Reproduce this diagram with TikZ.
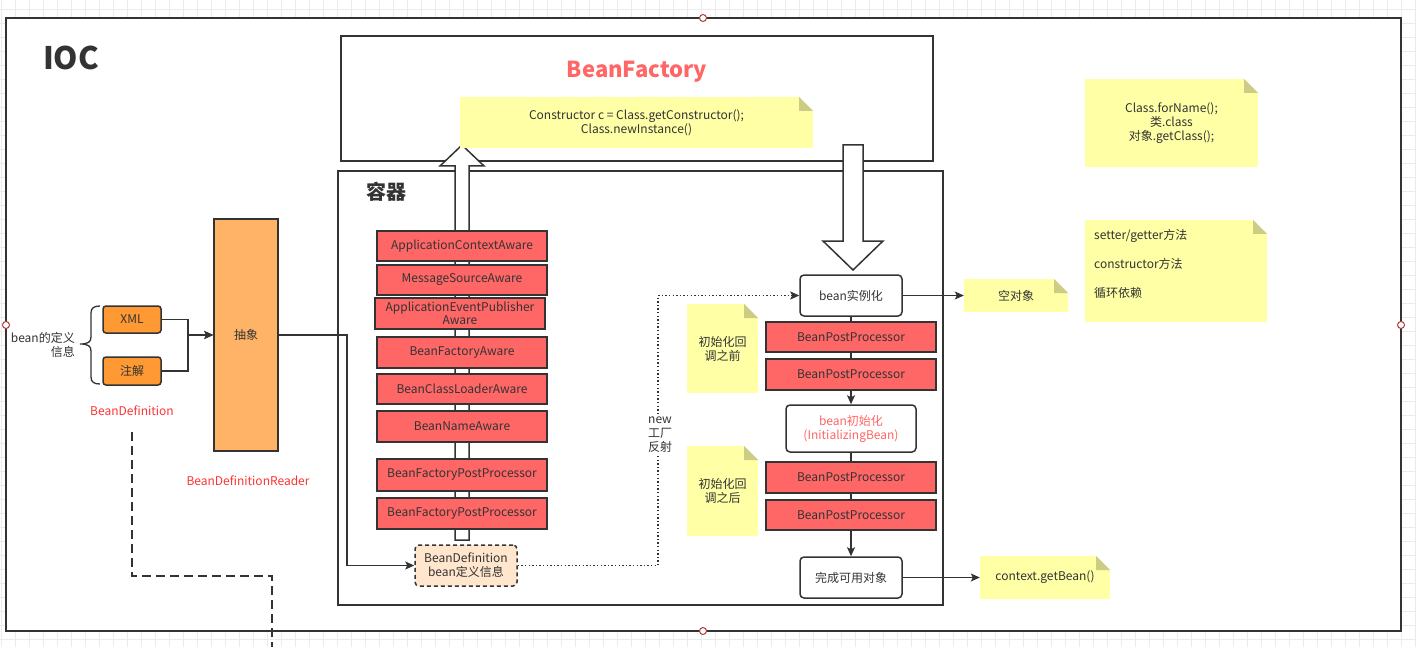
\documentclass[tikz,border=0pt]{standalone}
\usepackage{fontspec}
\setmainfont{Noto Sans CJK SC}
\usetikzlibrary{arrows.meta}
\definecolor{ink}{HTML}{333333}
\definecolor{redbox}{HTML}{FF6666}
\definecolor{notefill}{HTML}{FFFFA6}
\definecolor{notefold}{HTML}{CCCC85}
\definecolor{orangeA}{HTML}{FF9933}
\definecolor{orangeB}{HTML}{FFB366}
\definecolor{peach}{HTML}{FFE6CC}
\definecolor{redtext}{HTML}{FF3333}
\definecolor{gridc}{HTML}{EBEBEB}
\definecolor{handlec}{HTML}{B03A3A}
\tikzset{
  txt/.style={font=\fontsize{12}{14}\selectfont, text=ink, inner sep=0pt, align=center},
  redb/.style={txt, draw=ink, line width=1.5pt, fill=redbox},
  whiteb/.style={txt, draw=ink, line width=1.5pt, fill=white, rounded corners=4pt},
  orb/.style={txt, draw=ink, line width=1.5pt, fill=orangeA, rounded corners=3pt},
  absb/.style={txt, draw=ink, line width=1.5pt, fill=orangeB},
  defb/.style={txt, draw=ink, line width=1.5pt, fill=peach, rounded corners=4pt, dash pattern=on 4pt off 3pt},
  notebg/.style={txt, fill=notefill},
  frame/.style={draw=ink, line width=2pt},
  conn/.style={draw=ink, line width=1.3pt, -{Stealth[length=9pt,width=8pt,inset=2pt]}},
  plain/.style={draw=ink, line width=1.3pt},
  dotconn/.style={draw=ink, line width=1.4pt, dash pattern=on 1.4pt off 2.2pt, -{Stealth[length=9pt,width=8pt,inset=2pt]}},
  dashconn/.style={draw=ink, line width=2pt, dash pattern=on 9pt off 5pt},
  handle/.style={circle, draw=handlec, fill=white, line width=1pt, minimum size=7pt, inner sep=0pt},
  bigarrow/.style={draw=ink, fill=white, line width=1.5pt, line join=miter},
}
% box from pixel corners
\newcommand\bx[7]{\node[#2, minimum width={#5-#3}, minimum height={#6-#4}] (#1) at ({(#3+#5)/2},{(#4+#6)/2}) {#7};}
\newcommand\notebx[7]{%
  \node[notebg, #2, minimum width={#5-#3}, minimum height={#6-#4}] (#1) at ({(#3+#5)/2},{(#4+#6)/2}) {#7};
  \fill[white] ({#5-14},#4) -- (#5,#4) -- (#5,{#4+14}) -- cycle;
  \fill[notefold] ({#5-14},#4) -- ({#5-14},{#4+14}) -- (#5,{#4+14}) -- cycle;}
\begin{document}
\begin{tikzpicture}[x=1pt, y=-1pt]
\useasboundingbox (0,0) rectangle (1416,647);
% grid
\foreach \i in {0,...,101} {\draw[gridc, line width=0.8pt] ({1+14*\i},0) -- ({1+14*\i},647);}
\foreach \j in {0,...,46} {\draw[gridc, line width=0.8pt] (0,{9+14*\j}) -- (1416,{9+14*\j});}
% outer frame
\bx{ioc}{frame, fill=white}{6}{18}{1401}{631}{}
\node[font=\fontsize{31}{33}\selectfont\bfseries, text=ink] (ioct) at (71,58) {IOC};
% BeanFactory and container
\bx{bf}{frame, fill=white}{341}{36}{933}{161}{}
\node[font=\fontsize{22}{24}\selectfont\bfseries, text=redbox] (bft) at (637,72) {BeanFactory};
\bx{ct}{frame, fill=white}{338}{171}{943}{605}{}
\node[font=\fontsize{20}{22}\selectfont\bfseries, text=ink] (ctt) at (386,192) {容器};
% big hollow arrows
\draw[bigarrow] (843,145) -- (863,145) -- (863,241) -- (883,241) -- (853,270) -- (823,241) -- (843,241) -- cycle;
\draw[bigarrow] (455,540) -- (455,166) -- (440,166) -- (462,145) -- (484,166) -- (469,166) -- (469,540) -- cycle;
% notes
\notebx{nctor}{}{460}{97}{813}{148}{Constructor c = Class.getConstructor();\\Class.newInstance()}
\notebx{nclass}{}{1085}{79}{1258}{167}{Class.forName();\\类.class\\对象.getClass();}
\node[notebg, minimum width=182, minimum height=102] (nset) at (1176,271) {};
\fill[white] (1253,220) -- (1267,220) -- (1267,234) -- cycle;
\fill[notefold] (1253,220) -- (1253,234) -- (1267,234) -- cycle;
\node[txt, font=\fontsize{12}{29}\selectfont, align=left, anchor=north west] (nsett) at (1094,229) {setter/getter方法\\constructor方法\\循环依赖};
\notebx{nempty}{}{964}{279}{1068}{312}{空对象}
\notebx{nbefore}{}{687}{304}{758}{393}{初始化回\\调之前}
\notebx{nafter}{}{687}{446}{758}{536}{初始化回\\调之后}
\notebx{nget}{}{980}{556}{1110}{599}{context.getBean()}
% left column red boxes
\bx{a1}{redb}{377}{231}{547}{261}{ApplicationContextAware}
\bx{a2}{redb}{377}{265}{547}{295}{MessageSourceAware}
\bx{a3}{redb, font=\fontsize{12}{13}\selectfont}{375}{298}{545}{329}{ApplicationEventPublisher\\Aware}
\bx{a4}{redb}{377}{337}{547}{368}{BeanFactoryAware}
\bx{a5}{redb}{377}{374}{547}{404}{BeanClassLoaderAware}
\bx{a6}{redb}{377}{411}{547}{442}{BeanNameAware}
\bx{a7}{redb}{377}{459}{547}{491}{BeanFactoryPostProcessor}
\bx{a8}{redb}{377}{498}{547}{529}{BeanFactoryPostProcessor}
\bx{bd}{defb}{415}{545}{517}{586}{BeanDefinition\\bean定义信息}
% right column
\bx{inst}{whiteb}{800}{275}{902}{316}{bean实例化}
\bx{p1}{redb}{766}{322}{936}{352}{BeanPostProcessor}
\bx{p2}{redb}{766}{359}{936}{390}{BeanPostProcessor}
\bx{init}{whiteb, text=redbox}{786}{405}{916}{452}{bean初始化\\(InitializingBean)}
\bx{p3}{redb}{766}{462}{936}{493}{BeanPostProcessor}
\bx{p4}{redb}{766}{500}{936}{530}{BeanPostProcessor}
\bx{done}{whiteb}{800}{557}{902}{598}{完成可用对象}
% left part
\bx{xml}{orb}{103}{306}{161}{333}{XML}
\bx{zj}{orb}{103}{357}{161}{385}{注解}
\bx{abs}{absb}{214}{219}{278}{451}{抽象}
\node[txt, align=right, anchor=east] (beandef) at (75,345) {bean的定义\\信息};
\draw[ink, line width=1.3pt] (100,306) .. controls (94,306) and (91,308) .. (91,313) -- (91,337) .. controls (91,342) and (88,344) .. (80,344) .. controls (88,344) and (91,346) .. (91,351) -- (91,377) .. controls (91,382) and (94,384) .. (100,384);
\node[txt, text=redtext] (bdname) at (132,411) {BeanDefinition};
\node[txt, text=redtext] (bdrname) at (248,481) {BeanDefinitionReader};
% connectors
\draw[conn] (xml.east) -| (188,335) -- (abs.west);
\draw[conn] (zj.east) -| (188,335) -- (abs.west);
\draw[conn] (abs.east) -| (347,565.5) -- (bd.west);
\draw[dotconn] (bd.east) -- (658,565.5) -- (658,295.5) -- (inst.west);
\node[txt, fill=white, inner ysep=1pt] (newlbl) at (660,435) {new\\工厂\\反射};
\draw[plain] (inst.south) -- (p1.north);
\draw[plain] (p1.south) -- (p2.north);
\draw[conn] (p2.south) -- (init.north);
\draw[plain] (init.south) -- (p3.north);
\draw[plain] (p3.south) -- (p4.north);
\draw[conn] (p4.south) -- (done.north);
\draw[conn] (inst.east) -- (nempty.west);
\draw[conn] (done.east) -- (nget.west);
\coordinate (dstart) at (132,432);
\coordinate (dend) at (272,647);
\draw[dashconn] (dstart) -- (132,576) -- (272,576) -- (dend);
% selection handles
\node[handle] (h1) at (703,18) {};
\node[handle] (h2) at (6,325) {};
\node[handle] (h3) at (1401,325) {};
\node[handle] (h4) at (703,631) {};
\end{tikzpicture}
\end{document}
